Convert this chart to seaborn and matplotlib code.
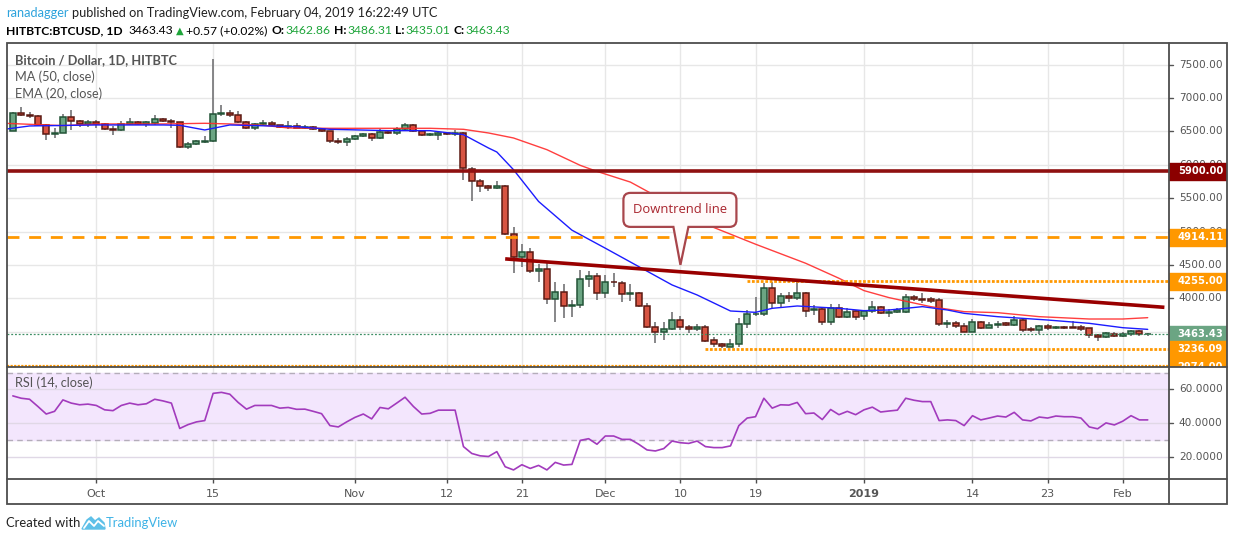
import numpy as np
import pandas as pd
import matplotlib
matplotlib.use("Agg")
import matplotlib.pyplot as plt
import seaborn as sns
from matplotlib.patches import Rectangle, PathPatch, Polygon
from matplotlib.path import Path

# daily BTCUSD candles, 21 Sep 2018 .. 4 Feb 2019
dates = pd.date_range("2018-09-21", "2019-02-04", freq="D")
opens = [6510, 6775, 6750, 6730, 6600, 6460, 6480, 6715, 6650, 6605,
         6640, 6615, 6535, 6520, 6615, 6640, 6615, 6625, 6685, 6660,
         6635, 6265, 6310, 6345, 6355, 6760, 6775, 6740, 6640, 6550,
         6610, 6620, 6590, 6565, 6585, 6555, 6565, 6535, 6505, 6355,
         6340, 6385, 6430, 6460, 6400, 6490, 6470, 6535, 6595, 6505,
         6445, 6445, 6480, 6460, 6475, 5940, 5755, 5680, 5650, 5680,
         4960, 4615, 4690, 4405, 4435, 3985, 4090, 3880, 3900, 4285,
         4335, 4075, 4250, 4225, 4060, 4080, 3880, 3565, 3500, 3535,
         3670, 3565, 3535, 3575, 3375, 3310, 3275, 3310, 3610, 3760,
         3770, 4150, 3925, 4030, 4000, 4075, 3820, 3840, 3640, 3860,
         3720, 3815, 3730, 3815, 3865, 3775, 3790, 3800, 4015, 3990,
         3990, 3970, 3610, 3630, 3590, 3500, 3640, 3560, 3595, 3630,
         3595, 3670, 3545, 3530, 3580, 3555, 3570, 3565, 3570, 3550,
         3450, 3415, 3460, 3440, 3460, 3510, 3462.86]
highs = [6785, 6860, 6790, 6750, 6610, 6545, 6760, 6825, 6665, 6670,
         6670, 6630, 6575, 6660, 6700, 6660, 6660, 6740, 6700, 6680,
         6640, 6340, 6370, 6425, 7575, 6900, 6815, 6810, 6650, 6625,
         6670, 6660, 6600, 6650, 6620, 6600, 6575, 6545, 6510, 6400,
         6420, 6450, 6480, 6475, 6540, 6510, 6560, 6625, 6615, 6520,
         6475, 6510, 6490, 6525, 6490, 5965, 5785, 5700, 5760, 5700,
         5070, 4810, 4760, 4515, 4550, 4245, 4215, 3975, 4425, 4415,
         4375, 4350, 4375, 4265, 4210, 4090, 3935, 3640, 3640, 3800,
         3735, 3600, 3610, 3595, 3415, 3335, 3385, 3700, 3825, 4015,
         4235, 4250, 4075, 4090, 4250, 4100, 3900, 3850, 3910, 3910,
         3850, 3825, 3825, 3960, 3885, 3835, 3860, 4065, 4050, 4075,
         4025, 4000, 3670, 3660, 3635, 3690, 3660, 3640, 3655, 3640,
         3740, 3700, 3575, 3600, 3620, 3590, 3590, 3660, 3600, 3560,
         3470, 3500, 3500, 3500, 3525, 3520, 3486.31]
lows = [6500, 6730, 6700, 6580, 6365, 6400, 6470, 6515, 6570, 6565,
        6550, 6520, 6450, 6510, 6590, 6600, 6570, 6600, 6640, 6550,
        6250, 6235, 6290, 6330, 6340, 6725, 6715, 6620, 6540, 6525,
        6590, 6575, 6545, 6540, 6550, 6530, 6520, 6490, 6330, 6310,
        6280, 6370, 6420, 6360, 6385, 6455, 6450, 6525, 6490, 6425,
        6425, 6375, 6450, 6435, 5765, 5450, 5585, 5600, 5640, 4950,
        4385, 4475, 4385, 4250, 3920, 3640, 3710, 3725, 3850, 4175,
        3975, 4010, 4175, 3950, 3960, 3870, 3550, 3335, 3375, 3525,
        3525, 3475, 3510, 3350, 3275, 3250, 3265, 3275, 3560, 3740,
        3740, 3850, 3850, 3950, 3975, 3725, 3750, 3600, 3600, 3700,
        3700, 3675, 3675, 3785, 3760, 3725, 3775, 3785, 3960, 3925,
        3925, 3590, 3560, 3560, 3490, 3490, 3540, 3550, 3560, 3585,
        3585, 3500, 3500, 3470, 3520, 3535, 3535, 3550, 3515, 3400,
        3365, 3400, 3420, 3415, 3440, 3440, 3435.01]
closes = [6775, 6750, 6730, 6600, 6460, 6480, 6715, 6650, 6605, 6640,
          6615, 6535, 6520, 6615, 6640, 6615, 6635, 6685, 6660, 6635,
          6265, 6310, 6355, 6355, 6760, 6775, 6740, 6640, 6550, 6610,
          6620, 6590, 6565, 6575, 6555, 6565, 6535, 6505, 6350, 6340,
          6385, 6435, 6460, 6405, 6490, 6470, 6535, 6595, 6505, 6445,
          6450, 6480, 6460, 6480, 5950, 5755, 5680, 5650, 5680, 4970,
          4615, 4690, 4405, 4435, 3985, 4090, 3880, 3900, 4285, 4335,
          4075, 4240, 4240, 4060, 4080, 3880, 3565, 3500, 3535, 3670,
          3565, 3535, 3575, 3365, 3310, 3290, 3315, 3610, 3760, 3770,
          4150, 3925, 4030, 4000, 4075, 3805, 3840, 3640, 3860, 3715,
          3800, 3715, 3815, 3865, 3775, 3800, 3820, 4015, 3985, 3975,
          3960, 3610, 3630, 3590, 3500, 3640, 3560, 3595, 3610, 3595,
          3670, 3530, 3530, 3580, 3550, 3570, 3555, 3560, 3540, 3450,
          3415, 3475, 3430, 3460, 3510, 3465, 3463.43]
rsi = [56.1, 54.7, 54.1, 49.8, 45.3, 46.9, 53.7, 51.8, 50.8, 51.2,
       50.4, 47.8, 47.3, 50.4, 51.8, 50.8, 51.4, 54.1, 53.1, 51.8,
       36.7, 39.0, 40.6, 41.4, 57.6, 58.2, 57.1, 52.2, 48.2, 50.4,
       50.4, 50.4, 48.8, 49.2, 48.1, 48.2, 46.9, 45.5, 38.4, 37.6,
       40.6, 43.3, 45.3, 42.4, 49.2, 48.4, 51.8, 55.3, 49.8, 45.3,
       45.7, 47.6, 47.6, 47.6, 25.9, 21.8, 20.4, 20.0, 22.9, 13.9,
       12.0, 15.1, 12.9, 14.7, 12.0, 16.5, 14.9, 15.3, 29.6, 30.6,
       27.3, 32.2, 32.2, 30.2, 30.2, 27.3, 23.9, 23.3, 24.7, 29.2,
       28.2, 27.8, 29.2, 25.9, 25.3, 25.3, 26.3, 38.4, 42.9, 43.7,
       54.7, 48.8, 50.8, 50.6, 52.2, 45.5, 45.9, 42.0, 48.0, 44.9,
       46.9, 44.9, 47.8, 49.4, 46.5, 47.1, 47.6, 54.7, 53.5, 52.7,
       52.7, 41.4, 41.8, 41.4, 38.4, 44.3, 41.8, 42.9, 44.1, 43.5,
       46.3, 41.8, 41.2, 43.5, 42.9, 44.1, 43.7, 43.7, 42.9, 37.6,
       36.5, 40.0, 38.8, 41.0, 44.3, 41.8, 41.8]

# indicator lines (day offset from 1 Oct 2018, price)
ma_days = [-11, -4, 0, 8, 13, 16, 20, 23, 28, 35, 40, 44, 47, 50, 54, 58, 60,
           64, 69, 74, 79, 85, 89, 92, 95, 100, 104, 108, 113, 119, 123, 126]
ma_vals = [6620, 6585, 6610, 6610, 6620, 6610, 6590, 6550, 6545, 6545, 6545,
           6530, 6475, 6400, 6225, 5990, 5900, 5740, 5400, 5060, 4810, 4525,
           4300, 4115, 4010, 3875, 3800, 3785, 3725, 3690, 3690, 3710]
ema_days = [-11, -8, 0, 8, 10, 13, 16, 24, 28, 35, 40, 44, 47, 48, 50, 53, 57,
            61, 65, 69, 72, 76, 79, 81, 84, 89, 92, 95, 99, 102, 104, 108,
            114, 119, 123, 126]
ema_vals = [6530, 6580, 6595, 6595, 6590, 6520, 6595, 6570, 6530, 6510, 6510,
            6450, 6250, 6190, 5925, 5450, 5020, 4750, 4475, 4200, 4050, 3810,
            3790, 3850, 3885, 3850, 3815, 3825, 3875, 3825, 3775, 3725, 3675,
            3625, 3560, 3535]
trend_days = [49, 128]
trend_vals = [4590, 3865]

price_ticks = [3500, 4000, 4500, 5000, 5500, 6000, 6500, 7000, 7500]
price_labels = ["", "4000.00", "4500.00", "5000.00", "5500.00", "6000.00",
                "6500.00", "7000.00", "7500.00"]
rsi_ticks = [20, 40, 60]
time_ticks = [0, 14, 31, 42, 51, 61, 70, 79, 92, 105, 114, 123]
time_labels = ["Oct", "15", "Nov", "12", "21", "Dec", "10", "19", "2019", "14", "23", "Feb"]

last_price = 3463.43

W, H = 1234, 541
sns.set_style("white")
plt.rcParams["font.family"] = ["DejaVu Sans"]

days = (dates - pd.Timestamp("2018-10-01")).days.values
df = pd.DataFrame({"day": days, "open": opens, "high": highs, "low": lows,
                   "close": closes, "rsi": rsi})
df["up"] = df["close"] >= df["open"]

GRID = "#e7e7e7"
FRAME = "#4d4d4d"
TXT = "#555555"
UP, UP_E = "#6ba583", "#225437"
DN, DN_E = "#d75442", "#5b1a13"
ORANGE = "#ff9800"


def fr(x0, y0, x1, y1):
    return [x0 / W, 1 - y1 / H, (x1 - x0) / W, (y1 - y0) / H]


fig = plt.figure(figsize=(W / 100, H / 100), dpi=100)
ax = fig.add_axes(fr(7, 43, 1169, 366.5))
rax = fig.add_axes(fr(7, 366.5, 1169, 479))
pax = fig.add_axes(fr(1169, 43, 1227, 366.5))
rpax = fig.add_axes(fr(1169, 366.5, 1227, 479))

xlim = (-10.7, 128.55)
ax.set_xlim(*xlim)
rax.set_xlim(*xlim)
ax.set_ylim(2979, 7822)
rax.set_ylim(6.6, 73.6)
pax.set_ylim(ax.get_ylim())
rpax.set_ylim(rax.get_ylim())
pax.set_xlim(0, 1)
rpax.set_xlim(0, 1)

for a in (ax, rax, pax, rpax):
    for s in a.spines.values():
        s.set_visible(False)
    a.set_xticks([])
    a.set_yticks([])

# grid
for t in time_ticks:
    ax.axvline(t, color=GRID, lw=1, zorder=0)
    rax.axvline(t, color=GRID, lw=1, zorder=0)
for p in price_ticks:
    ax.axhline(p, color=GRID, lw=1, zorder=0)

# horizontal levels
ax.axhline(5900, color="#8f1010", lw=2.6, zorder=5)
ax.axhline(4914.11, color=ORANGE, lw=2, dashes=(4.3, 3.5), zorder=5)
ax.plot([78, xlim[1]], [4255, 4255], color=ORANGE, lw=2, dashes=(1.0, 0.6), zorder=5)
ax.plot([73, xlim[1]], [3236.09, 3236.09], color=ORANGE, lw=2, dashes=(1.0, 0.6), zorder=5)
ax.axhline(2981, color=ORANGE, lw=1.6, dashes=(1.0, 0.6), zorder=5)
ax.axhline(last_price, color="#3d8f64", lw=0.9, dashes=(1.5, 1.5), zorder=5)

# candles
ax.vlines(df["day"], df["low"], df["high"], color="#737375", lw=1.2, zorder=2)
body = (df["close"] - df["open"]).abs().clip(lower=8)
bottom = df[["open", "close"]].min(axis=1)
ax.bar(df["day"], body, bottom=bottom, width=0.72,
       color=np.where(df["up"], UP, DN), edgecolor=np.where(df["up"], UP_E, DN_E),
       linewidth=1.1, zorder=3)

# moving averages
sns.lineplot(x=ma_days, y=ma_vals, ax=ax, color="#ff2a2a", lw=1.0, alpha=0.9, zorder=4)
sns.lineplot(x=ema_days, y=ema_vals, ax=ax, color="#1c1cff", lw=1.0, zorder=4)
ax.plot(trend_days, trend_vals, color="#990000", lw=2.6, zorder=6, solid_capstyle="butt")
ax.set_xlabel("")
ax.set_ylabel("")

# RSI pane
rax.axhspan(30, 70, color="#f3e6fd", zorder=0)
for r in rsi_ticks:
    rax.axhline(r, color="#e0d8e6", lw=1, zorder=0.5)
for r in (30, 70):
    rax.axhline(r, color="#b4adba", lw=1, dashes=(4, 3), zorder=1)
sns.lineplot(data=df, x="day", y="rsi", ax=rax, color="#a23bbd", lw=1.2, zorder=3)
rax.set_xlabel("")
rax.set_ylabel("")

# time axis
rax.set_xticks(time_ticks)
rax.set_xticklabels(time_labels)
rax.tick_params(axis="x", bottom=True, length=3, width=1, color=FRAME, labelsize=8,
                labelcolor=TXT, pad=4)
for lab in rax.get_xticklabels():
    if lab.get_text() == "2019":
        lab.set_fontweight("bold")

# price scale
for p, lab in zip(price_ticks, price_labels):
    pax.plot([0, 0.07], [p, p], color=TXT, lw=1, clip_on=True)
    if lab:
        pax.text(0.17, p, lab, color=TXT, fontsize=7.6, va="center", ha="left", clip_on=True)
for r in rsi_ticks:
    rpax.plot([0, 0.07], [r, r], color=TXT, lw=1)
    rpax.text(0.17, r, f"{r:.4f}", color=TXT, fontsize=7.6, va="center", ha="left")

ppx = (ax.get_ylim()[1] - ax.get_ylim()[0]) / 323.5
tags = [(5900, "5900.00", "#8b0000"), (4914.11, "4914.11", ORANGE),
        (4255.00, "4255.00", ORANGE), (last_price, "3463.43", UP),
        (3236.09, "3236.09", ORANGE), (2976, "2974.00", ORANGE)]
for val, txt, col in tags:
    rect = Rectangle((0, val - 8.5 * ppx), 1, 17 * ppx, color=col, zorder=5,
                     transform=pax.get_yaxis_transform(), clip_on=True)
    pax.add_patch(rect)
    pax.text(0.15, val, txt, color="white", fontsize=7.2, fontweight="bold",
             va="center", ha="left", zorder=6, clip_on=True)

# overlay in pixel coordinates for frame, header, footer and callout
ov = fig.add_axes([0, 0, 1, 1], zorder=10)
ov.set_xlim(0, W)
ov.set_ylim(H, 0)
ov.axis("off")
ov.patch.set_visible(False)
ov.add_patch(Rectangle((7, 43), 1220, 461, fill=False, ec=FRAME, lw=1.3))
ov.plot([7, 1227], [366.5, 366.5], color=FRAME, lw=1.3)
ov.plot([7, 1227], [479, 479], color=FRAME, lw=1.3)
ov.plot([1169, 1169], [43, 504], color=FRAME, lw=1.3)

renderer = fig.canvas.get_renderer()
LATO = ["Lato", "DejaVu Sans"]
GREEN = "#1ea53a"


def put_row(x, y, pieces, size):
    # lay text pieces side by side, measuring each one
    for s, c, w, gap in pieces:
        fam = ["DejaVu Sans"] if s == "\u25b2" else LATO
        fs = size - 1.5 if s == "\u25b2" else size
        t = ov.text(x, y, s, color=c, fontweight=w, fontsize=fs, family=fam, va="center")
        x += t.get_window_extent(renderer).width + gap


put_row(6, 13, [("ranadagger", "#2ea3dc", "normal", 3.5),
                ("published on TradingView.com, February 04, 2019 16:22:49 UTC",
                 "#222222", "normal", 0)], 9.2)
put_row(6, 31, [("HITBTC:BTCUSD, 1D", "black", "bold", 6),
                ("3463.43", "black", "normal", 2.5), ("\u25b2", GREEN, "normal", 3),
                ("+0.57 (+0.02%)", "black", "normal", 4),
                ("O:", "black", "bold", 1), ("3462.86", GREEN, "normal", 3),
                ("H:", "black", "bold", 1), ("3486.31", GREEN, "normal", 3),
                ("L:", "black", "bold", 1), ("3435.01", GREEN, "normal", 3),
                ("C:", "black", "bold", 1), ("3463.43", GREEN, "normal", 0)], 8.7)

ov.text(15, 60, "Bitcoin / Dollar, 1D, HITBTC", color=TXT, fontweight="bold",
        fontsize=9.2, family=LATO, va="center")
ov.text(15, 77, "MA (50, close)", color=TXT, fontsize=9.2, family=LATO, va="center")
ov.text(15, 94, "EMA (20, close)", color=TXT, fontsize=9.2, family=LATO, va="center")
ov.text(15, 383, "RSI (14, close)", color=TXT, fontsize=9.2, family=LATO, va="center")

ov.text(6, 523, "Created with", color="#222222", fontsize=9.4, family=LATO, va="center")
ov.add_patch(Polygon([(82, 529), (87, 520), (91, 517), (95, 521), (99, 518),
                      (104, 523), (105, 529)], closed=True, color="#5ec0e8"))
ov.plot([84, 89, 94, 98, 104], [528, 521, 526, 521, 526], color="white", lw=1.3)
ov.text(106, 523, "TradingView", color="#3fb3e6", fontsize=9.4, family=LATO, va="center")

# callout anchored at the chart point
tx, ty = ax.transData.transform((70, 4500))
ty = H - ty
x0, x1, y0, y1, r = tx - 57, tx + 56, ty - 72, ty - 38, 7
verts = [(x0 + r, y0), (x1 - r, y0), (x1, y0), (x1, y0 + r), (x1, y1 - r), (x1, y1),
         (x1 - r, y1), (tx + 8, y1), (tx, ty), (tx - 7, y1), (x0 + r, y1), (x0, y1),
         (x0, y1 - r), (x0, y0 + r), (x0, y0), (x0 + r, y0), (x0 + r, y0)]
codes = [Path.MOVETO, Path.LINETO, Path.CURVE3, Path.CURVE3, Path.LINETO, Path.CURVE3,
         Path.CURVE3, Path.LINETO, Path.LINETO, Path.LINETO, Path.LINETO, Path.CURVE3,
         Path.CURVE3, Path.LINETO, Path.CURVE3, Path.CURVE3, Path.CLOSEPOLY]
ov.add_patch(PathPatch(Path(verts, codes), fc="#fffafa", ec="#a8454b", lw=1.6))
ov.text((x0 + x1) / 2, (y0 + y1) / 2, "Downtrend line", color="#a8232c",
        fontsize=9.4, family=["Open Sans", "DejaVu Sans"], ha="center", va="center")

fig.savefig("out.png", dpi=100)
